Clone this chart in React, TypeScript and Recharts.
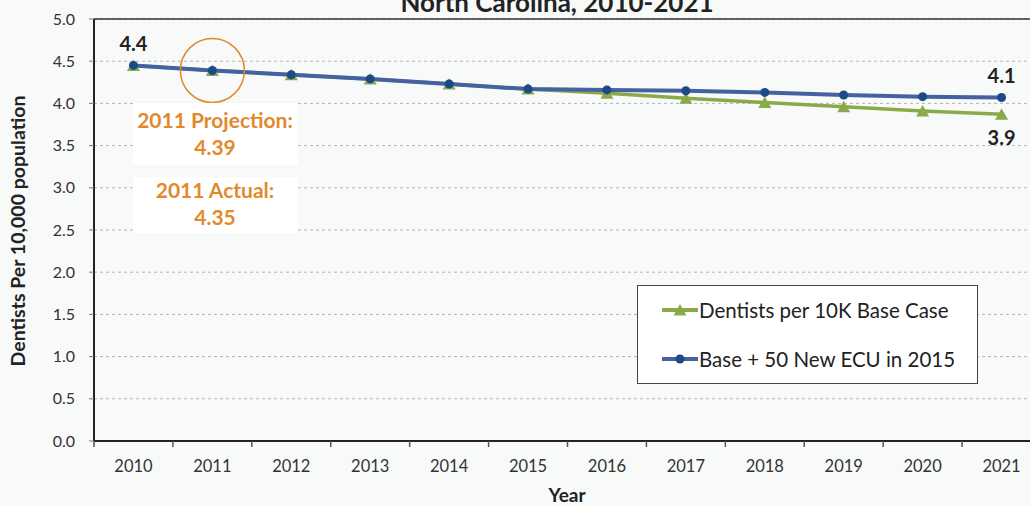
import React from "react";
import {
  LineChart,
  Line,
  XAxis,
  YAxis,
  CartesianGrid,
  ReferenceLine,
  ReferenceDot,
} from "recharts";

const years = [2010, 2011, 2012, 2013, 2014, 2015, 2016, 2017, 2018, 2019, 2020, 2021];
const baseCase = [4.45, 4.39, 4.34, 4.29, 4.23, 4.17, 4.12, 4.06, 4.01, 3.96, 3.91, 3.87];
const withEcu = [4.45, 4.39, 4.34, 4.29, 4.23, 4.17, 4.16, 4.15, 4.13, 4.1, 4.08, 4.07];
const yTicks = [0, 0.5, 1, 1.5, 2, 2.5, 3, 3.5, 4, 4.5, 5];

// point labels shown on the chart
const ecuLabels: Record<number, string> = { 0: "4.4", 11: "4.1" };
const baseLabels: Record<number, string> = { 11: "3.9" };

const series = [
  { key: "base", name: "Dentists per 10K Base Case", color: "#8AAA4A", dotColor: "#8AAA4A" },
  { key: "ecu", name: "Base + 50 New ECU in 2015", color: "#4562A0", dotColor: "#1C4A86" },
];

const data = years.map((year, i) => ({ year, base: baseCase[i], ecu: withEcu[i] }));

// labels at the years, tick marks between them
const xTicks = [...years, ...years.map((y) => y - 0.5), years[years.length - 1] + 0.5].sort(
  (a, b) => a - b
);

const FONT = "Lato, 'Open Sans', sans-serif";
const ORANGE = "#E2892C";

const XTick = (props: any) => {
  const { x, y, payload } = props;
  const v = payload.value;
  if (Number.isInteger(v)) {
    return (
      <text x={x} y={y + 31} textAnchor="middle" fontSize={16.5} fill="#333" fontFamily={FONT}>
        {v}
      </text>
    );
  }
  return <line x1={x} y1={y} x2={x} y2={y + 6} stroke="#555" strokeWidth={1.5} />;
};

const Triangle = (props: any) => {
  const { cx, cy, index } = props;
  if (cx == null || cy == null) return <g key={index} />;
  return (
    <path
      key={index}
      d={`M${cx},${cy - 6} L${cx + 6.5},${cy + 5.5} L${cx - 6.5},${cy + 5.5} Z`}
      fill="#8AAA4A"
    />
  );
};

const makeLabel = (labels: Record<number, string>, dy: number) => (props: any) => {
  const { x, y, index } = props;
  const txt = labels[index];
  if (!txt) return <g key={index} />;
  return (
    <text
      key={index}
      x={x}
      y={y + dy}
      textAnchor="middle"
      fontSize={20}
      fontWeight={700}
      fill="#222"
      fontFamily={FONT}
    >
      {txt}
    </text>
  );
};

const LegendBox = () => (
  <div
    style={{
      position: "absolute",
      left: 637,
      top: 285,
      width: 341,
      height: 99,
      boxSizing: "border-box",
      background: "#fff",
      border: "1.5px solid #444",
      fontFamily: FONT,
    }}
  >
    {series.map((s, i) => (
      <div
        key={s.key}
        style={{
          position: "absolute",
          left: 24,
          top: 12 + i * 49,
          height: 24,
          display: "flex",
          alignItems: "center",
          fontSize: 20.5,
          color: "#222",
          whiteSpace: "nowrap",
        }}
      >
        <svg width={36} height={16} style={{ marginRight: 1 }}>
          <line x1={0} y1={8} x2={36} y2={8} stroke={s.color} strokeWidth={4} />
          {s.key === "base" ? (
            <path d="M18,2 L24.5,13.5 L11.5,13.5 Z" fill={s.dotColor} />
          ) : (
            <circle cx={18} cy={8} r={4.5} fill={s.dotColor} />
          )}
        </svg>
        {s.name}
      </div>
    ))}
  </div>
);

export default function App() {
  return (
    <div
      style={{
        position: "fixed",
        left: 0,
        top: 0,
        width: 1030,
        height: 506,
        overflow: "hidden",
        background: "#F8F9F9",
        fontFamily: FONT,
      }}
    >
      <LineChart
        width={1060}
        height={506}
        data={data}
        margin={{ top: 19, right: 19, left: 0, bottom: 35 }}
      >
        <CartesianGrid vertical={false} stroke="#B5B5B5" strokeDasharray="3 3" />
        <ReferenceLine y={5} stroke="#333" strokeWidth={1.5} />
        <XAxis
          dataKey="year"
          type="number"
          domain={[years[0] - 0.5, years[years.length - 1] + 0.5]}
          ticks={xTicks}
          interval={0}
          tick={<XTick />}
          tickSize={0}
          tickMargin={0}
          tickLine={false}
          axisLine={{ stroke: "#222", strokeWidth: 2 }}
          height={30}
        />
        <YAxis
          type="number"
          domain={[0, 5]}
          ticks={yTicks}
          width={94}
          tickFormatter={(v: number) => v.toFixed(1)}
          tick={{ fill: "#333", fontSize: 16, fontFamily: FONT }}
          tickSize={5}
          tickMargin={14}
          tickLine={{ stroke: "#777" }}
          axisLine={{ stroke: "#222", strokeWidth: 2 }}
        />
        <Line
          dataKey="base"
          name={series[0].name}
          stroke={series[0].color}
          strokeWidth={3.5}
          dot={<Triangle />}
          activeDot={false}
          label={makeLabel(baseLabels, 31)}
          isAnimationActive={false}
        />
        <Line
          dataKey="ecu"
          name={series[1].name}
          stroke={series[1].color}
          strokeWidth={4}
          dot={{ r: 4.5, fill: series[1].dotColor, stroke: series[1].dotColor, strokeWidth: 0 }}
          activeDot={false}
          label={makeLabel(ecuLabels, -14)}
          isAnimationActive={false}
        />
        <ReferenceDot x={2011} y={4.39} r={32} fill="none" stroke={ORANGE} strokeWidth={1.5} />
      </LineChart>
      <LegendBox />
      <svg
        width={1030}
        height={506}
        style={{ position: "absolute", left: 0, top: 0, pointerEvents: "none" }}
        fontFamily={FONT}
      >
        <text x={557} y={12} textAnchor="middle" fontSize={26} fontWeight={700} fill="#222">
          North Carolina, 2010-2021
        </text>
        <text
          transform="translate(25,231) rotate(-90)"
          textAnchor="middle"
          fontSize={19.5}
          fontWeight={700}
          fill="#222"
        >
          Dentists Per 10,000 population
        </text>
        <text x={567} y={502} textAnchor="middle" fontSize={19} fontWeight={700} fill="#222">
          Year
        </text>
        <rect x={133} y={103} width={165} height={62} fill="#fff" />
        <text x={215} y={128} textAnchor="middle" fontSize={21} fontWeight={700} fill={ORANGE}>
          2011 Projection:
        </text>
        <text x={215} y={155} textAnchor="middle" fontSize={21} fontWeight={700} fill={ORANGE}>
          4.39
        </text>
        <rect x={133} y={177} width={165} height={56} fill="#fff" />
        <text x={215} y={198} textAnchor="middle" fontSize={21} fontWeight={700} fill={ORANGE}>
          2011 Actual:
        </text>
        <text x={215} y={225} textAnchor="middle" fontSize={21} fontWeight={700} fill={ORANGE}>
          4.35
        </text>
      </svg>
    </div>
  );
}
